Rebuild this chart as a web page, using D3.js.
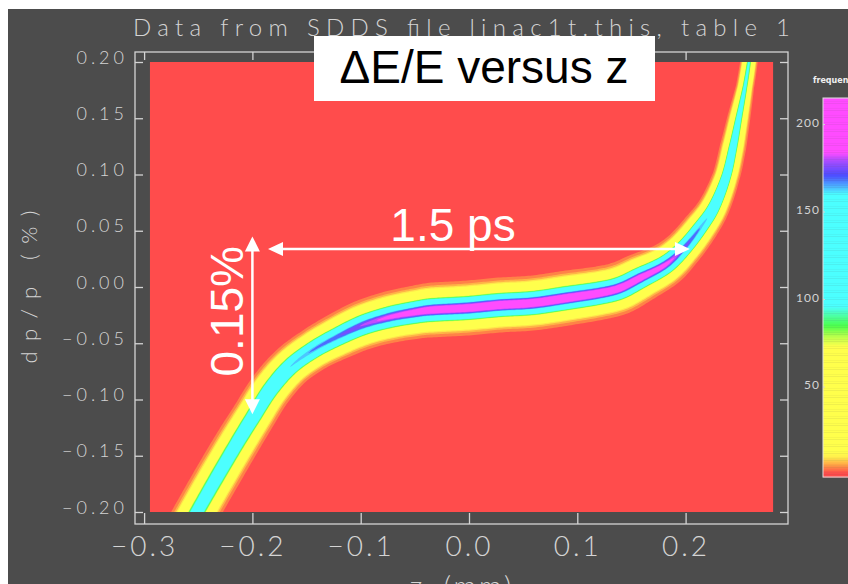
<!DOCTYPE html>
<html><head><meta charset="utf-8">
<script src="https://cdn.jsdelivr.net/npm/d3@7"></script>
<style>html,body{margin:0;padding:0;background:#fff;} svg{display:block}</style>
</head><body>
<svg id="chart" width="848" height="584"></svg>
<script>
// ---------------- data ----------------
const titleText = "Data from SDDS file linac1t.this, table 1";
const xLabel = "z (mm)";
const yLabel = "dp/p (%)";
const zTicks = [-0.3, -0.2, -0.1, 0.0, 0.1, 0.2];
const dpTicks = [-0.20, -0.15, -0.10, -0.05, 0.00, 0.05, 0.10, 0.15, 0.20];
const freqTicks = [50, 100, 150, 200];
const histZ = [-0.2946, 0.2808];
const histDp = [-0.2, 0.2];
const freqRange = [-2.6, 214];

// ridge of the (z, dp/p) density band
const zCenter  = [-0.2604,-0.2512,-0.2327,-0.2142,-0.1994,-0.1837,-0.1653,-0.1440,-0.1219,-0.0979,-0.0729,-0.0480,-0.0332,-0.0018,0.0286,0.0591,0.0905,0.1210,0.1394,0.1579,0.1810,0.1976,0.2133,0.2262,0.2373,0.2438,0.2493,0.2548,0.2585,0.2604];
const dpCenter = [-0.2160,-0.2000,-0.1689,-0.1387,-0.1156,-0.0916,-0.0711,-0.0560,-0.0444,-0.0338,-0.0267,-0.0222,-0.0204,-0.0187,-0.0160,-0.0142,-0.0098,-0.0053,-0.0009,0.0080,0.0196,0.0338,0.0524,0.0711,0.0978,0.1244,0.1511,0.1778,0.2000,0.2151];
// peak frequency along the ridge
const peakFreq = [124,125,128,132,140,150,160,166,170,178,186,193,197,199,201,201,201,199,197,195,188,175,165,155,140,125,112,102,96,95];
// transverse spread of the band (mm-equivalent)
const bandSigma = [0.0070,0.0070,0.0070,0.0069,0.0067,0.0066,0.0065,0.0066,0.0070,0.0074,0.0077,0.0079,0.0081,0.0081,0.0081,0.0081,0.0081,0.0079,0.0078,0.0074,0.0066,0.0058,0.0054,0.0048,0.0042,0.0041,0.0036,0.0029,0.0028,0.0028];

// colour table of the frequency scale
const freqStops  = [0, 4, 9, 12, 72, 78, 84, 90, 95, 159, 164, 170, 178, 183, 215];
const freqColors = ["#ff4c4c","#ff9a45","#ffee4c","#ffff4c","#ffff4c","#b8ff4c","#4cff4c","#4cffa8","#4cffff","#4cffff","#4cadff","#4c4cff","#a64cff","#ff4cff","#ff4cff"];
const bandLevels = [1.5, 4, 7, 10, 75, 80, 86, 91, 95, 160, 165, 171, 177, 182];

// annotations
const vArrow = {z: -0.2, dp0: 0.045, dp1: -0.113, label: "0.15%"};
const hArrow = {dp: 0.0338, z0: -0.1856, z1: 0.204, label: "1.5 ps"};
const boxTitle = "\u0394E/E versus z";

// ---------------- drawing ----------------
const svg = d3.select("#chart");
const W = 848, H = 584;
const fg = "#d4d4d4";
const font = "Lato, 'DejaVu Sans', sans-serif";

svg.append("rect").attr("width", W).attr("height", H).attr("fill", "#ffffff");
svg.append("rect").attr("x", 8).attr("y", 9).attr("width", W - 8).attr("height", H - 9).attr("fill", "#4c4c4c");

const x = d3.scaleLinear().domain([-0.3, 0.3]).range([144.1, 793.9]);
const y = d3.scaleLinear().domain([-0.2, 0.2]).range([512, 62]);
const cb = d3.scaleLinear().domain([0, 200]).range([472.5, 122.5]);
const cScale = d3.scaleLinear().domain(freqStops).range(freqColors).clamp(true);

// histogram background
const hx0 = x(histZ[0]), hx1 = x(histZ[1]), hy0 = y(histDp[1]), hy1 = y(histDp[0]);
svg.append("defs").append("clipPath").attr("id", "hclip")
  .append("rect").attr("x", hx0).attr("y", hy0).attr("width", hx1 - hx0).attr("height", hy1 - hy0);
svg.append("rect").attr("x", hx0).attr("y", hy0).attr("width", hx1 - hx0).attr("height", hy1 - hy0)
  .attr("fill", cScale(0));

// band: smooth ridge (Catmull-Rom through the read points) with Gaussian cross-section
const pxPerMm = x(1) - x(0);
const raw = zCenter.map((z, i) => ({x: x(z), y: y(dpCenter[i]), P: peakFreq[i], s: bandSigma[i] * pxPerMm}));
const pts = [];
const n = raw.length, steps = 14;
for (let i = 0; i < n - 1; i++) {
  const p0 = raw[Math.max(0, i - 1)], p1 = raw[i], p2 = raw[i + 1], p3 = raw[Math.min(n - 1, i + 2)];
  for (let k = 0; k < steps; k++) {
    const t = k / steps, t2 = t * t, t3 = t2 * t;
    const cr = (a, b, c, d) => 0.5 * (2 * b + (-a + c) * t + (2 * a - 5 * b + 4 * c - d) * t2 + (-a + 3 * b - 3 * c + d) * t3);
    pts.push({x: cr(p0.x, p1.x, p2.x, p3.x), y: cr(p0.y, p1.y, p2.y, p3.y),
              P: p1.P + (p2.P - p1.P) * t, s: p1.s + (p2.s - p1.s) * t});
  }
}
pts.push({...raw[n - 1]});
pts.forEach((p, i) => {
  const a = pts[Math.max(0, i - 3)], b = pts[Math.min(pts.length - 1, i + 3)];
  const dx = b.x - a.x, dy = b.y - a.y, L = Math.hypot(dx, dy);
  p.nx = -dy / L; p.ny = dx / L;
});
const side = d3.line();
const gBand = svg.append("g").attr("clip-path", "url(#hclip)");
bandLevels.forEach((L, k) => {
  const hw = pts.map(p => p.P > L ? p.s * Math.sqrt(2 * Math.log(p.P / L)) : 0);
  if (d3.max(hw) <= 0) return;
  const left = pts.map((p, i) => [p.x + p.nx * hw[i], p.y + p.ny * hw[i]]);
  const right = pts.map((p, i) => [p.x - p.nx * hw[i], p.y - p.ny * hw[i]]).reverse();
  const next = k < bandLevels.length - 1 ? bandLevels[k + 1] : 200;
  gBand.append("path")
    .attr("d", side(left.concat(right)) + "Z")
    .attr("fill", cScale((L + next) / 2));
});

// frame
svg.append("rect").attr("x", 135).attr("y", 52).attr("width", 653).attr("height", 472)
  .attr("fill", "none").attr("stroke", fg).attr("stroke-width", 1.3);

function styleAxis(g, size, spacing) {
  g.select(".domain").remove();
  g.selectAll(".tick line").attr("stroke", fg).attr("stroke-width", 1.3);
  g.selectAll(".tick text").attr("fill", fg).attr("font-family", font)
    .attr("font-size", size).attr("font-weight", 300).attr("letter-spacing", spacing);
}
const fmtY = d => d3.format(".2f")(d).replace("-", "\u2212");
const fmtX = d => d3.format(".1f")(d).replace("-", "\u2212");

const gL = svg.append("g").attr("transform", "translate(135,0)")
  .call(d3.axisLeft(y).tickValues(dpTicks).tickSizeInner(-8).tickSizeOuter(0).tickPadding(7).tickFormat(fmtY));
styleAxis(gL, 18, 4);
gL.selectAll(".tick text").attr("dy", 1);

const gR = svg.append("g").attr("transform", "translate(788,0)")
  .call(d3.axisRight(y).tickValues(dpTicks).tickSizeInner(-8).tickSizeOuter(0).tickFormat(""));
styleAxis(gR, 18, 0);

const gT = svg.append("g").attr("transform", "translate(0,52)")
  .call(d3.axisTop(x).tickValues(zTicks).tickSizeInner(-8).tickSizeOuter(0).tickFormat(""));
styleAxis(gT, 18, 0);

const gB = svg.append("g").attr("transform", "translate(0,524)")
  .call(d3.axisBottom(x).tickValues(zTicks).tickSizeInner(-11).tickSizeOuter(0).tickPadding(12).tickFormat(fmtX));
styleAxis(gB, 28, 3);

// axis titles
svg.append("text").attr("x", 133).attr("y", 36).attr("fill", fg).attr("font-family", font)
  .attr("font-weight", 300).attr("font-size", 24).attr("textLength", 657).attr("lengthAdjust", "spacing")
  .text(titleText);
svg.append("text").attr("transform", "translate(28,287) rotate(-90)").attr("text-anchor", "middle")
  .attr("dominant-baseline", "central").attr("fill", fg).attr("font-family", font).attr("font-weight", 300)
  .attr("font-size", 22).attr("textLength", 153).attr("lengthAdjust", "spacing").text(yLabel);
svg.append("text").attr("x", 462).attr("y", 596).attr("text-anchor", "middle").attr("fill", fg)
  .attr("font-family", font).attr("font-weight", 300).attr("font-size", 28).attr("letter-spacing", 3)
  .attr("word-spacing", 8).text(xLabel);

// colour bar
const gC = svg.append("g");
d3.range(Math.floor(freqRange[0]), Math.ceil(freqRange[1])).forEach(L => {
  const y0 = cb(Math.min(L + 1, freqRange[1])), y1 = cb(Math.max(L, freqRange[0]));
  gC.append("rect").attr("x", 823).attr("y", y0).attr("width", 40).attr("height", y1 - y0 + 0.4)
    .attr("fill", cScale(L + 0.5));
});
gC.append("rect").attr("x", 823).attr("y", cb(freqRange[1])).attr("width", 40)
  .attr("height", cb(freqRange[0]) - cb(freqRange[1])).attr("fill", "none").attr("stroke", "#e0e0e0").attr("stroke-width", 1);
freqTicks.forEach(t => {
  gC.append("text").attr("x", 820).attr("y", cb(t)).attr("dy", "0.35em").attr("text-anchor", "end")
    .attr("fill", fg).attr("font-family", font).attr("font-size", 12).attr("letter-spacing", 1).text(t);
  gC.append("line").attr("x1", 823).attr("x2", 825).attr("y1", cb(t) + 2).attr("y2", cb(t) + 2)
    .attr("stroke", fg).attr("stroke-width", 1);
});
gC.append("text").attr("x", 813).attr("y", 83).attr("fill", "#f0f0f0").attr("font-family", "'DejaVu Sans', sans-serif")
  .attr("font-size", 8).attr("font-weight", "bold").text("frequency");

// annotations
const white = "#ffffff";
const ann = svg.append("g");
function arrowHead(tipX, tipY, dirX, dirY, len, half) {
  const bx = tipX - dirX * len, by = tipY - dirY * len;
  const px = -dirY, py = dirX;
  return `M${tipX},${tipY}L${bx + px * half},${by + py * half}L${bx - px * half},${by - py * half}Z`;
}
const vx = x(vArrow.z), vy0 = y(vArrow.dp0), vy1 = y(vArrow.dp1);
ann.append("line").attr("x1", vx).attr("x2", vx).attr("y1", vy0 + 10).attr("y2", vy1 - 10)
  .attr("stroke", white).attr("stroke-width", 2.5);
ann.append("path").attr("d", arrowHead(vx, vy0, 0, -1, 15, 7.5)).attr("fill", white);
ann.append("path").attr("d", arrowHead(vx, vy1, 0, 1, 15, 7.5)).attr("fill", white);
ann.append("text").attr("transform", `translate(${vx - 9},${(vy0 + vy1) / 2 - 14}) rotate(-90)`)
  .attr("text-anchor", "middle").attr("fill", white).attr("font-family", "'Liberation Sans', Arial, sans-serif")
  .attr("font-size", 46).text(vArrow.label);

const hy = y(hArrow.dp), hx0a = x(hArrow.z0), hx1a = x(hArrow.z1);
ann.append("line").attr("x1", hx0a + 10).attr("x2", hx1a - 10).attr("y1", hy).attr("y2", hy)
  .attr("stroke", white).attr("stroke-width", 2.5);
ann.append("path").attr("d", arrowHead(hx0a, hy, -1, 0, 15, 7)).attr("fill", white);
ann.append("path").attr("d", arrowHead(hx1a, hy, 1, 0, 15, 7)).attr("fill", white);
ann.append("text").attr("x", 453).attr("y", hy - 8).attr("text-anchor", "middle").attr("fill", white)
  .attr("font-family", "'Liberation Sans', Arial, sans-serif").attr("font-size", 46).text(hArrow.label);

// title box
svg.append("rect").attr("x", 314).attr("y", 36).attr("width", 341).attr("height", 65).attr("fill", white);
svg.append("text").attr("x", 484).attr("y", 83).attr("text-anchor", "middle").attr("fill", "#000")
  .attr("font-family", "'Liberation Sans', Arial, sans-serif").attr("font-size", 46).text(boxTitle);
</script>
</body></html>
